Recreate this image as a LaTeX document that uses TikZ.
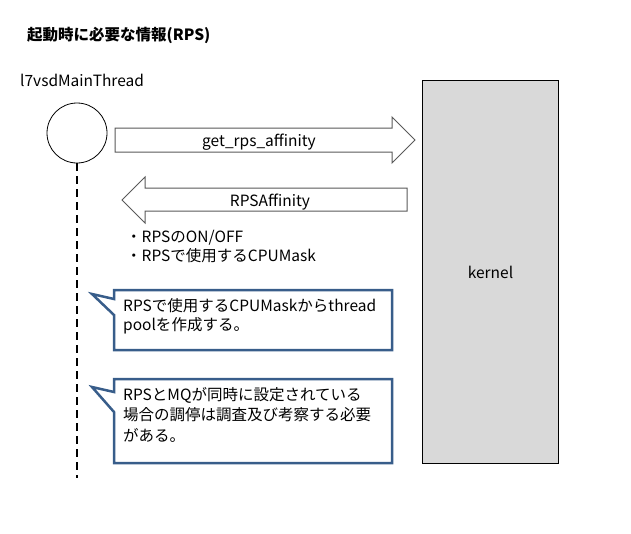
\documentclass[tikz,border=0pt]{standalone}
\usepackage{fontspec}
\setmainfont{Noto Sans CJK JP}
\definecolor{callblue}{HTML}{385D8A}
\definecolor{kgray}{HTML}{D9D9D9}
\definecolor{arrline}{HTML}{595959}
\tikzset{
  txt/.style={inner sep=0pt, font=\fontsize{15.5}{19}\selectfont, text=black, yshift=-2pt},
  blockarrow/.style={draw=arrline, line width=1pt, fill=white},
  callout/.style={draw=callblue, line width=2.5pt, fill=white, line join=miter},
}
\begin{document}
\begin{tikzpicture}[x=1pt, y=-1pt]
\useasboundingbox (0,0) rectangle (631,533);
% title
\node[txt, anchor=west, font=\fontsize{15.5}{19}\selectfont\bfseries] (title) at (27,33) {起動時に必要な情報(RPS)};
% thread
\node[txt, anchor=west] (thread) at (20,78) {l7vsdMainThread};
\node[draw, circle, minimum size=60pt, inner sep=0pt, line width=0.8pt] (th) at (77,133) {};
\coordinate (lifeend) at (77,478);
\draw[line width=2pt, dash pattern=on 8pt off 5pt] (th.south) -- (lifeend);
% kernel
\node[draw, fill=kgray, line width=1pt, minimum width=136pt, minimum height=383pt, inner sep=0pt, anchor=north west, font=\fontsize{15.5}{19}\selectfont] (kernel) at (422,80) {kernel};
% right arrow
\draw[blockarrow] (115,128) -- (392,128) -- (392,117) -- (415,140) -- (392,163) -- (392,152) -- (115,152) -- cycle;
\node[txt] (req) at (259,140) {get\_rps\_affinity};
% left arrow
\draw[blockarrow] (407,188) -- (145,188) -- (145,177) -- (122,200) -- (145,223) -- (145,211) -- (407,211) -- cycle;
\node[txt] (resp) at (270,200) {RPSAffinity};
% bullets
\node[txt, anchor=west] (b1) at (126,236) {・RPSのON/OFF};
\node[txt, anchor=west] (b2) at (126,254) {・RPSで使用するCPUMask};
% callout 1
\draw[callout] (114,290) -- (392,290) -- (392,350) -- (114,350) -- (114,315) -- (92,294) -- (114,299) -- cycle;
\node[txt, anchor=west] (c1a) at (123,304) {RPSで使用するCPUMaskからthread};
\node[txt, anchor=west] (c1b) at (123,324) {poolを作成する。};
% callout 2
\draw[callout] (114,379) -- (392,379) -- (392,463) -- (114,463) -- (114,412) -- (92,387) -- (114,392) -- cycle;
\node[txt, anchor=west] (c2a) at (123,393) {RPSとMQが同時に設定されている};
\node[txt, anchor=west] (c2b) at (123,413) {場合の調停は調査及び考察する必要};
\node[txt, anchor=west] (c2c) at (123,433) {がある。};
\end{tikzpicture}
\end{document}
